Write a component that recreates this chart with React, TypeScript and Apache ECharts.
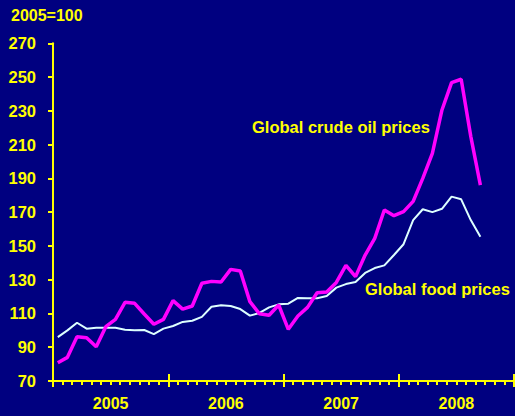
import React, { useEffect, useRef } from "react";
import * as echarts from "echarts";

const years = ["2005", "2006", "2007", "2008"];
const monthNames = ["Jan", "Feb", "Mar", "Apr", "May", "Jun", "Jul", "Aug", "Sep", "Oct", "Nov", "Dec"];
const months: string[] = [];
years.forEach((y) => monthNames.forEach((m) => months.push(`${m} ${y}`)));

const foodPrices = [
  96, 100, 104.5, 101, 101.5, 101.5, 101.5, 100.4, 100, 100.2, 97.8, 101,
  102.6, 105, 105.7, 108, 114, 114.8, 114.4, 112.6, 108.7, 110.3, 113.6, 115.4,
  115.8, 119.2, 119, 119, 120.3, 125.3, 127.4, 128.6, 134, 136.9, 138.5, 144.6,
  151, 165.3, 171.7, 170, 172, 179.2, 177.6, 165.3, 155.5,
];
const oilPrices = [
  80.8, 84, 96.2, 95.6, 90.3, 102.2, 106.5, 116.6, 116, 109.7, 103.6, 106.5,
  117.6, 112.6, 114.4, 127.9, 129, 128.6, 136.1, 135.1, 117, 109.8, 108.9, 115,
  100.6, 108.5, 113.6, 122.3, 122.7, 128.4, 138.5, 131.8, 144.6, 154.5, 171.3, 167.9,
  170.3, 176.4, 190, 204.8, 230.5, 246.7, 248.7, 214.9, 186,
];

const YELLOW = "#FFFF00";
const BG = "#000080";
const FONT = "'Liberation Sans', Arial, sans-serif";

export default function App() {
  const ref = useRef<HTMLDivElement>(null);
  useEffect(() => {
    document.body.style.margin = "0";
    document.body.style.background = BG;
    const chart = echarts.init(ref.current!, undefined, { renderer: "svg" });
    const yearAxisBase = {
      type: "category" as const,
      data: years,
      gridIndex: 0,
      position: "bottom" as const,
      boundaryGap: true,
      axisLine: { show: false },
      splitLine: { show: false },
    };
    chart.setOption({
      animation: false,
      backgroundColor: BG,
      grid: { left: 53, right: 1, top: 43.3, bottom: 35, containLabel: false },
      xAxis: [
        {
          type: "category",
          data: months,
          boundaryGap: true,
          axisLine: { show: true, lineStyle: { color: YELLOW, width: 2 } },
          axisTick: { show: true, interval: 0, length: 4, inside: false, lineStyle: { color: YELLOW, width: 2 } },
          axisLabel: { show: false },
          splitLine: { show: false },
        },
        {
          ...yearAxisBase,
          axisTick: { show: true, interval: 0, length: 6, inside: false, lineStyle: { color: YELLOW, width: 2 } },
          axisLabel: {
            show: true,
            interval: 0,
            color: YELLOW,
            fontFamily: FONT,
            fontWeight: "bold",
            fontSize: 16,
            margin: 14,
          },
        },
        {
          ...yearAxisBase,
          axisTick: { show: true, interval: 0, length: 7, inside: true, lineStyle: { color: YELLOW, width: 2 } },
          axisLabel: { show: false },
        },
      ],
      yAxis: {
        type: "value",
        min: 70,
        max: 270,
        interval: 20,
        axisLine: { show: true, lineStyle: { color: YELLOW, width: 2 } },
        axisTick: { show: true, length: 5, lineStyle: { color: YELLOW, width: 2 } },
        axisLabel: {
          color: YELLOW,
          fontFamily: FONT,
          fontWeight: "bold",
          fontSize: 16.5,
          margin: 17,
        },
        splitLine: { show: false },
      },
      series: [
        {
          name: "Global food prices",
          type: "line",
          xAxisIndex: 0,
          data: foodPrices,
          symbol: "none",
          lineStyle: { color: "#DDFFFF", width: 2 },
          z: 3,
        },
        {
          name: "Global crude oil prices",
          type: "line",
          xAxisIndex: 0,
          data: oilPrices,
          symbol: "none",
          lineStyle: { color: "#FF00FF", width: 3.5 },
          z: 4,
        },
      ],
      graphic: [
        {
          type: "text",
          left: 11,
          top: 7,
          style: { text: "2005=100", fill: YELLOW, font: `bold 16px ${FONT}` },
        },
        {
          type: "text",
          left: 252,
          top: 118.5,
          style: { text: "Global crude oil prices", fill: YELLOW, font: `bold 16.5px ${FONT}` },
        },
        {
          type: "text",
          left: 365,
          top: 280.5,
          style: { text: "Global food prices", fill: YELLOW, font: `bold 16.5px ${FONT}` },
        },
      ],
    });
    return () => chart.dispose();
  }, []);
  return <div ref={ref} style={{ width: 515, height: 416 }} />;
}
